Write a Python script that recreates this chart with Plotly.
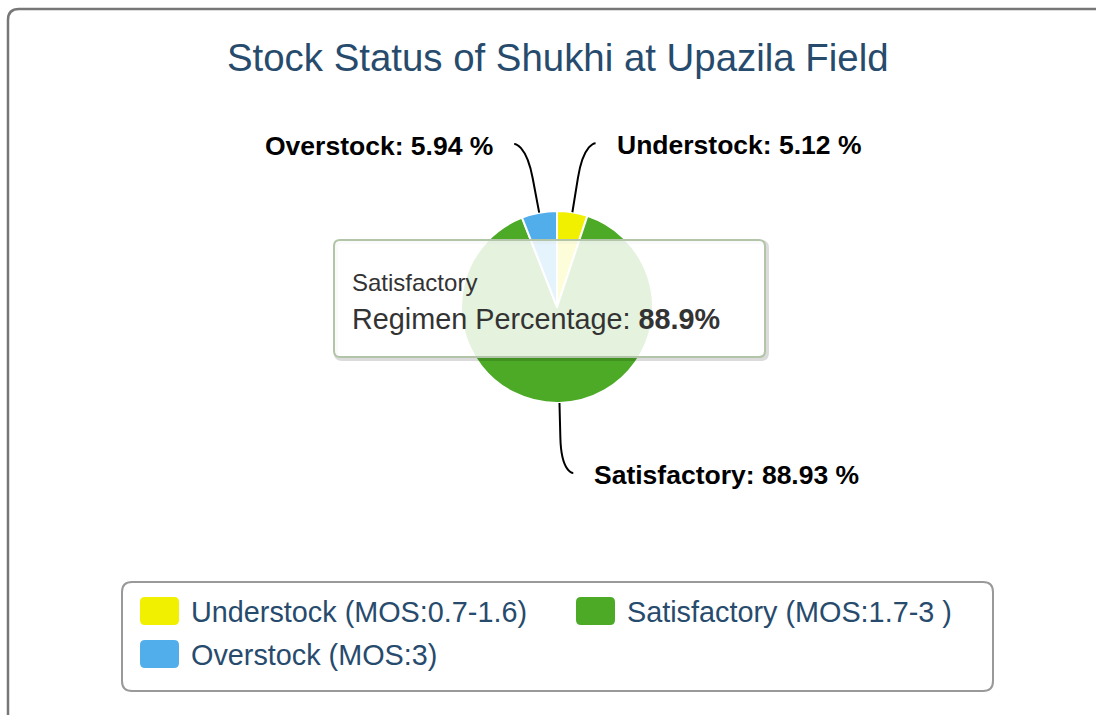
import math
import plotly.graph_objects as go

# ---------------- data ----------------
labels = ["Understock", "Satisfactory", "Overstock"]
values = [5.12, 88.93, 5.94]
legend_names = ["Understock (MOS:0.7-1.6)", "Satisfactory (MOS:1.7-3 )", "Overstock (MOS:3)"]
colors = ["#f0f000", "#4caa27", "#52aeeb"]
title_text = "Stock Status of Shukhi at Upazila Field"
tooltip_point = "Satisfactory"
tooltip_label = "Regimen Percentage"
tooltip_value = 88.9

# ---------------- geometry (pixels) ----------------
W, H = 1096, 715
CX, CY, R = 557, 307, 96
DIST = 70
PAD = 12
FONT = "Liberation Sans, Arial, Helvetica, sans-serif"


def px(x):
    return x / W


def py(y):
    return 1 - y / H


def P(x, y):
    return f"{px(x):.6f},{py(y):.6f}"


def rounded_rect(x0, y0, x1, y1, r):
    return (f"M {P(x0 + r, y0)} L {P(x1 - r, y0)} Q {P(x1, y0)} {P(x1, y0 + r)} "
            f"L {P(x1, y1 - r)} Q {P(x1, y1)} {P(x1 - r, y1)} "
            f"L {P(x0 + r, y1)} Q {P(x0, y1)} {P(x0, y1 - r)} "
            f"L {P(x0, y0 + r)} Q {P(x0, y0)} {P(x0 + r, y0)} Z")


fig = go.Figure()
fig.add_trace(go.Pie(
    labels=labels, values=values, sort=False, direction="clockwise", rotation=0,
    marker=dict(colors=colors, line=dict(color="white", width=2)),
    textinfo="none", hoverinfo="skip", showlegend=False,
    domain=dict(x=[px(CX - R), px(CX + R)], y=[py(CY + R), py(CY - R)]),
))

shapes = []
annotations = []

# outer chart border
shapes.append(dict(type="path", xref="paper", yref="paper", layer="above",
                   path=f"M {P(8, H + 20)} L {P(8, 20)} Q {P(8, 9)} {P(19, 9)} L {P(W + 20, 9)}",
                   line=dict(color="#777777", width=2.5)))

# title
annotations.append(dict(text=title_text, x=px(558), y=py(57), xref="paper", yref="paper",
                        xanchor="center", yanchor="middle", showarrow=False,
                        font=dict(family=FONT, size=38.4, color="#274b6d")))

# data labels with soft connectors
total = sum(values)
cum = 0.0
for lab, v in zip(labels, values):
    mid = (cum + v / 2) / total * 2 * math.pi
    cum += v
    s, c = math.sin(mid), math.cos(mid)
    ex, ey = CX + R * s, CY - R * c
    bx, by = CX + (R + DIST / 2) * s, CY - (R + DIST / 2) * c
    ly = CY - (R + DIST) * c
    sign = -1 if s < 0 else 1
    xc = CX + sign * (abs((R + DIST) * s) + PAD)
    path = (f"M {P(xc, ly)} C {P(xc, ly)} {P(2 * bx - ex, 2 * by - ey)} {P(bx, by)} "
            f"L {P(ex, ey)}")
    shapes.append(dict(type="path", xref="paper", yref="paper", layer="above",
                       path=path, line=dict(color="black", width=2)))
    annotations.append(dict(text=f"<b>{lab}: {v:.2f} %</b>",
                            x=px(xc + sign * 20), y=py(ly + 2), xref="paper", yref="paper",
                            xanchor="right" if sign < 0 else "left", yanchor="middle",
                            showarrow=False, borderpad=0,
                            font=dict(family=FONT, size=26.5, color="black")))

# tooltip box
tx0, ty0, tx1, ty1 = 334, 240, 765, 357
shapes.append(dict(type="path", xref="paper", yref="paper", layer="above",
                   path=rounded_rect(tx0 + 2, ty0 + 2, tx1 + 2, ty1 + 2, 6),
                   line=dict(color="rgba(0,0,0,0.14)", width=4)))
shapes.append(dict(type="path", xref="paper", yref="paper", layer="above",
                   path=rounded_rect(tx0, ty0, tx1, ty1, 6),
                   fillcolor="rgba(255,255,255,0.85)",
                   line=dict(color="#b3c5a8", width=2)))
annotations.append(dict(text=tooltip_point, x=px(351), y=py(282), xref="paper", yref="paper",
                        xanchor="left", yanchor="middle", showarrow=False, borderpad=0,
                        font=dict(family=FONT, size=24, color="#333333")))
annotations.append(dict(text=f"{tooltip_label}: <b>{tooltip_value}%</b>", x=px(351), y=py(319),
                        xref="paper", yref="paper", xanchor="left", yanchor="middle",
                        showarrow=False, borderpad=0,
                        font=dict(family=FONT, size=28.8, color="#333333")))

# legend box
shapes.append(dict(type="path", xref="paper", yref="paper", layer="above",
                   path=rounded_rect(122, 582, 993, 691, 10),
                   line=dict(color="#999999", width=2)))
col_x = [140, 576]
for i, (name, col) in enumerate(zip(legend_names, colors)):
    row, cc = divmod(i, 2)
    x0 = col_x[cc]
    y0 = 597 + row * 43
    shapes.append(dict(type="path", xref="paper", yref="paper", layer="above",
                       path=rounded_rect(x0, y0, x0 + 39, y0 + 28, 5),
                       fillcolor=col, line=dict(color=col, width=0)))
    annotations.append(dict(text=name, x=px(x0 + 50), y=py(y0 + 14.5), xref="paper", yref="paper",
                            xanchor="left", yanchor="middle", showarrow=False, borderpad=0,
                            font=dict(family=FONT, size=28.8, color="#274b6d")))

fig.update_layout(
    width=W, height=H, autosize=False,
    margin=dict(l=0, r=0, t=0, b=0),
    paper_bgcolor="white", plot_bgcolor="white",
    shapes=shapes, annotations=annotations,
    showlegend=False,
)

fig.write_html("out.html", config={"displayModeBar": False},
               post_script="document.body.style.margin='0px';document.body.style.overflow='hidden';")
